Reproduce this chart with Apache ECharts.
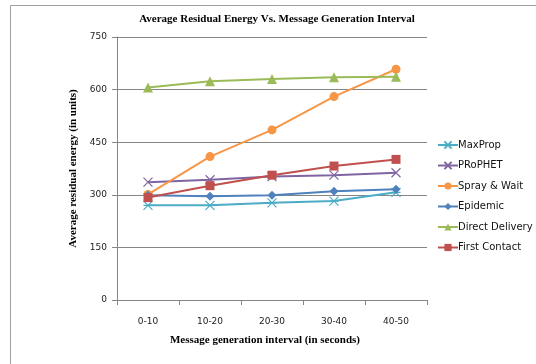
<!DOCTYPE html>
<html>
<head>
<meta charset="utf-8">
<script src="https://cdn.jsdelivr.net/npm/echarts@6/dist/echarts.min.js"></script>
<style>
  html, body { margin: 0; padding: 0; background: #fff; }
  #chart { width: 536px; height: 364px; }
</style>
</head>
<body>
<div id="chart"></div>
<script>
// Message generation intervals (seconds)
const categories = ['0-10', '10-20', '20-30', '30-40', '40-50'];

// Average residual energy per routing protocol (units)
const maxProp        = [270, 270, 277, 282, 307];
const prophet        = [336, 343, 352, 356, 363];
const sprayAndWait   = [301, 409, 485, 580, 658];
const epidemic       = [299, 296, 299, 310, 316];
const directDelivery = [606, 624, 630, 635, 637];
const firstContact   = [292, 326, 356, 382, 401];

const yTicks = [0, 150, 300, 450, 600, 750];

const serif = '"Liberation Serif", "DejaVu Serif", serif';
const sans = '"DejaVu Sans", Verdana, sans-serif';

const asterisk = 'path://M0,0L10,10M10,0L0,10M0,5L10,5';
const cross = 'path://M0,0L10,10M10,0L0,10';

function lineSeries(name, data, color, symbol, size, stroked) {
  return {
    name: name,
    type: 'line',
    data: data,
    symbol: symbol,
    symbolSize: size,
    lineStyle: { color: color, width: 2 },
    itemStyle: stroked
      ? { color: 'rgba(0,0,0,0)', borderColor: color, borderWidth: 1.2 }
      : { color: color, borderWidth: 0 },
    emphasis: { disabled: true }
  };
}

const chart = echarts.init(document.getElementById('chart'), null, { renderer: 'canvas' });
chart.setOption({
  animation: false,
  backgroundColor: '#fff',
  title: {
    text: 'Average Residual Energy Vs. Message Generation Interval',
    left: 272,
    textAlign: 'center',
    top: 9,
    textStyle: { fontFamily: serif, fontWeight: 'bold', fontSize: 11, color: '#000' }
  },
  graphic: [{
    type: 'polyline',
    shape: { points: [[10.5, 364], [10.5, 5.5], [536, 5.5]] },
    style: { stroke: '#a0a0a0', lineWidth: 1, fill: null },
    silent: true
  }],
  grid: { left: 117, right: 109, top: 37, bottom: 64 },
  legend: {
    orient: 'vertical',
    left: 432,
    top: 135,
    itemGap: 10.5,
    itemWidth: 20,
    itemHeight: 9,
    textStyle: { fontFamily: sans, fontSize: 10, color: '#111', padding: [0, 0, 0, -5] },
    data: ['MaxProp', 'PRoPHET', 'Spray & Wait', 'Epidemic', 'Direct Delivery', 'First Contact']
  },
  xAxis: {
    type: 'category',
    data: categories,
    boundaryGap: true,
    name: 'Message generation interval (in seconds)',
    nameLocation: 'middle',
    nameGap: 35,
    nameTextStyle: { fontFamily: serif, fontWeight: 'bold', fontSize: 11, color: '#000', padding: [0, 14, 0, 0] },
    axisLine: { lineStyle: { color: '#868686', width: 1 } },
    axisTick: { show: true, length: 5, inside: false, lineStyle: { color: '#868686' } },
    axisLabel: { fontFamily: sans, fontSize: 9, color: '#222', margin: 17 },
    splitLine: { show: false }
  },
  yAxis: {
    type: 'value',
    min: yTicks[0],
    max: yTicks[yTicks.length - 1],
    interval: 150,
    name: 'Average residual energy (in units)',
    nameLocation: 'middle',
    nameGap: 36,
    nameRotate: 90,
    nameTextStyle: { fontFamily: serif, fontWeight: 'bold', fontSize: 11, color: '#000' },
    axisLine: { show: true, lineStyle: { color: '#868686', width: 1 } },
    axisTick: { show: true, length: 5, lineStyle: { color: '#868686' } },
    axisLabel: { fontFamily: sans, fontSize: 9, color: '#222', margin: 10 },
    splitLine: { show: true, lineStyle: { color: '#868686', width: 1 } }
  },
  series: [
    lineSeries('MaxProp', maxProp, '#4BACC6', asterisk, 9, true),
    lineSeries('PRoPHET', prophet, '#8064A2', cross, 9, true),
    lineSeries('Spray & Wait', sprayAndWait, '#F79646', 'circle', 9, false),
    lineSeries('Epidemic', epidemic, '#4F81BD', 'diamond', 9, false),
    lineSeries('Direct Delivery', directDelivery, '#9BBB59', 'triangle', 10, false),
    lineSeries('First Contact', firstContact, '#C0504D', 'rect', 9, false)
  ]
});
</script>
</body>
</html>
